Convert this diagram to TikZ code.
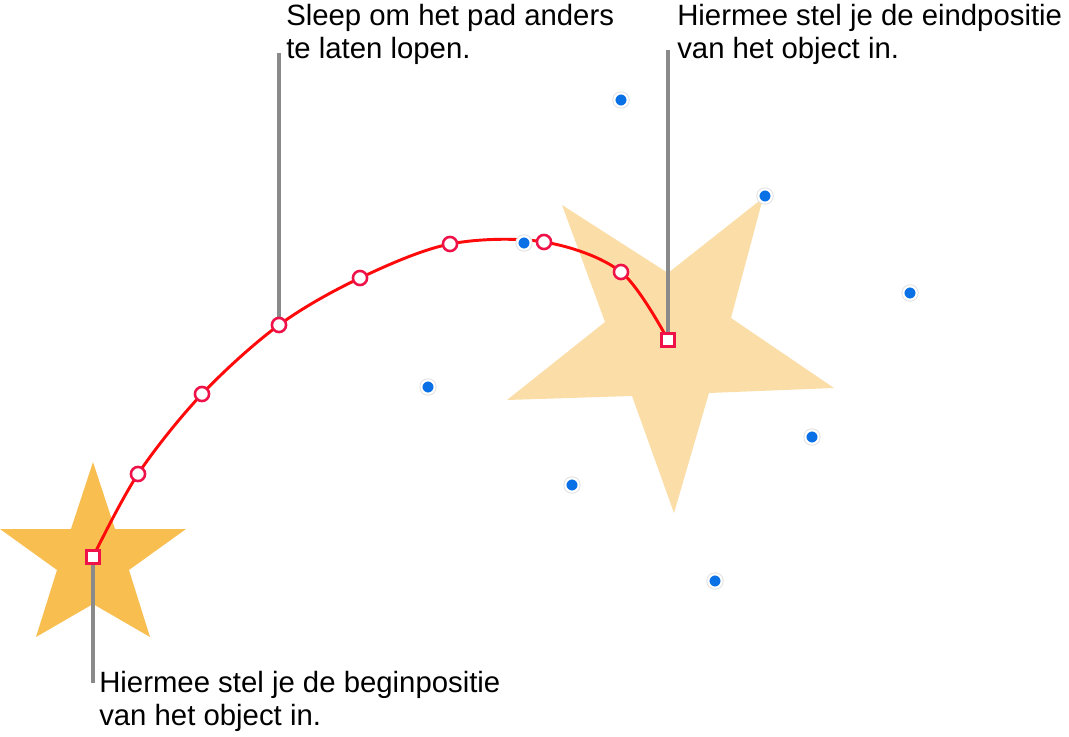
\documentclass[tikz,border=0pt]{standalone}
\usepackage{fontspec}
\setmainfont{Liberation Sans}
\definecolor{starA}{RGB}{249,190,80}
\definecolor{starB}{RGB}{251,221,168}
\definecolor{pathred}{RGB}{255,10,10}
\definecolor{hred}{RGB}{238,18,72}
\definecolor{callgray}{RGB}{138,138,138}
\definecolor{dotblue}{RGB}{10,112,230}
\begin{document}
\begin{tikzpicture}[x=0.75pt,y=-0.75pt,
  handle/.style={circle,draw=hred,fill=white,line width=1.9pt,minimum size=10.6pt,inner sep=0pt},
  endhandle/.style={rectangle,draw=hred,fill=white,line width=1.9pt,minimum size=10pt,inner sep=0pt},
  bluedot/.style={circle,fill=dotblue,draw=white,line width=1.6pt,minimum size=10pt,inner sep=0pt,
    preaction={draw=black!12,line width=3pt}},
  callout/.style={draw=callgray,line width=2.4pt},
  motion/.style={draw=pathred,line width=2.2pt},
  label/.style={inner sep=0pt,anchor=base west,align=left,font=\fontsize{22}{24.75}\selectfont}]
\useasboundingbox (0,0) rectangle (1069,737);
% stars
\fill[starA] (93,462) -- (115,529) -- (186,529) -- (129,570) -- (150,637) -- (93,604)
  -- (36,637) -- (57,570) -- (0,529) -- (71,529) -- cycle;
\fill[starB] (562,205) -- (668,273) -- (763,198) -- (731,318) -- (834,388) -- (709,393)
  -- (674,513) -- (632,396) -- (507,400) -- (605,322) -- cycle;
% path points
\coordinate (p0) at (93,557);
\coordinate (p1) at (138,474);
\coordinate (p2) at (202,394);
\coordinate (p3) at (279,325);
\coordinate (p4) at (360,278);
\coordinate (p5) at (450,244);
\coordinate (p6) at (544,242);
\coordinate (p7) at (621,272);
\coordinate (p8) at (668,340);
% label anchors
\coordinate (c1) at (279,53);
\coordinate (c2) at (668,50);
\coordinate (c3) at (93,683);
% callout lines
\draw[callout] (p3) -- (c1);
\draw[callout] (p8) -- (c2);
\draw[callout] (p0) -- (c3);
% motion path
\draw[motion] plot[smooth,tension=0.55] coordinates {(93,557) (138,474) (202,394) (279,325) (360,278) (450,244) (544,242) (621,272) (668,340)};
% blue selection handles
\node[bluedot] (b1) at (621,100) {};
\node[bluedot] (b2) at (765,196) {};
\node[bluedot] (b3) at (910,293) {};
\node[bluedot] (b4) at (812,437) {};
\node[bluedot] (b5) at (715,581) {};
\node[bluedot] (b6) at (572,485) {};
\node[bluedot] (b7) at (428,387) {};
\node[bluedot] (b8) at (524,243) {};
% path handles
\node[endhandle] (h0) at (p0) {};
\node[handle] (h1) at (p1) {};
\node[handle] (h2) at (p2) {};
\node[handle] (h3) at (p3) {};
\node[handle] (h4) at (p4) {};
\node[handle] (h5) at (p5) {};
\node[handle] (h6) at (p6) {};
\node[handle] (h7) at (p7) {};
\node[endhandle] (h8) at (p8) {};
% labels (anchor = baseline of the last line)
\node[label] (t1) at (286,59) {Sleep om het pad anders\\te laten lopen.};
\node[label] (t2) at (677,59) {Hiermee stel je de eindpositie\\van het object in.};
\node[label] (t3) at (99,725) {Hiermee stel je de beginpositie\\van het object in.};
\end{tikzpicture}
\end{document}
